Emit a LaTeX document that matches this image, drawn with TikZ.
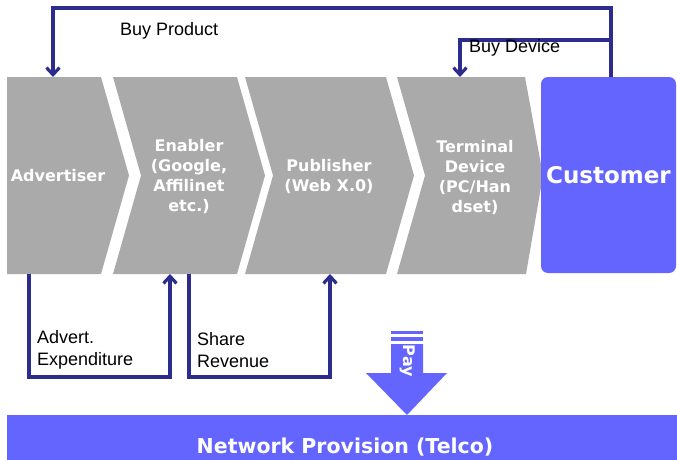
\documentclass[tikz,border=0pt]{standalone}
\usepackage{fontspec}
\setmainfont{Liberation Sans}
\newfontfamily\verdana{DejaVu Sans}
\usetikzlibrary{arrows.meta}
\definecolor{chevgray}{RGB}{170,170,170}
\definecolor{custblue}{RGB}{100,100,255}
\definecolor{flownavy}{RGB}{44,44,140}
\tikzset{
  chev/.style={fill=chevgray},
  stage/.style={text=white,inner sep=0pt,align=center,font=\verdana\bfseries\fontsize{16}{20}\selectfont},
  flow/.style={draw=flownavy,line width=3.2pt,line join=miter,-{Straight Barb[length=7pt,width=13pt]}},
  flowlabel/.style={inner sep=0pt,align=left,font=\fontsize{18}{22}\selectfont}
}

\begin{document}
\begin{tikzpicture}[x=1pt,y=-1pt]
  \useasboundingbox (0,0) rectangle (677,460);

  % value chain
  \fill[chev] (7,77) -- (101,77) -- (129,175.5) -- (101,274) -- (7,274) -- cycle;
  \fill[chev] (113,77) -- (237,77) -- (265,175.5) -- (237,274) -- (113,274) -- (141,175.5) -- cycle;
  \fill[chev] (245,77) -- (386,77) -- (414,175.5) -- (386,274) -- (245,274) -- (273,175.5) -- cycle;
  \fill[chev] (397,77) -- (525,77) -- (543,175.5) -- (526,274) -- (397,274) -- (425,175.5) -- cycle;

  \node[stage] (adv) at (58,176) {Advertiser};
  \node[stage] (enab) at (189,176) {Enabler\\(Google,\\Affilinet\\etc.)};
  \node[stage] (pub) at (329,176) {Publisher\\(Web X.0)};
  \node[stage] (term) at (475,177) {Terminal\\Device\\(PC/Han\\dset)};
  \node[fill=custblue,rounded corners=7pt,minimum width=135pt,minimum height=196pt,text=white,
        font=\verdana\bfseries\fontsize{23}{26}\selectfont] (cust) at (608.5,175) {Customer};

  % connectors
  \coordinate (custout) at (611,77);
  \coordinate (devsplit) at (611,40);
  \coordinate (advin) at (53,77);
  \coordinate (termin) at (460,77);
  \coordinate (advout) at (29,274);
  \coordinate (enabin) at (170,274);
  \coordinate (enabout) at (189,274);
  \coordinate (pubin) at (330,274);

  \draw[flow] (custout) -- ++(0,-69) -| (advin);
  \draw[flow] (devsplit) -| (termin);
  \draw[flow] (advout) -- ++(0,103) -| (enabin);
  \draw[flow] (enabout) -- ++(0,103) -| (pubin);

  \node[flowlabel,anchor=west] (buyprod) at (120,31) {Buy Product};
  \node[flowlabel,anchor=west] (buydev) at (469,48) {Buy Device};
  \node[flowlabel,anchor=west] (advexp) at (37,350) {Advert.\\Expenditure};
  \node[flowlabel,anchor=west] (sharerev) at (197,350) {Share\\Revenue};

  % pay
  \fill[custblue] (391,331) rectangle (423,334);
  \fill[custblue] (391,337) rectangle (423,341);
  \fill[custblue] (391,344) -- (423,344) -- (423,373) -- (447,373) -- (407,415) -- (366,373) -- (391,373) -- cycle;
  \node[stage,rotate=-90,font=\verdana\bfseries\fontsize{16}{18}\selectfont] (pay) at (408,361) {Pay};

  % network
  \node[fill=custblue,minimum width=670pt,minimum height=45pt,inner sep=0pt,anchor=north west] (telco) at (7,415) {};
  \node[stage,font=\verdana\bfseries\fontsize{20.5}{22}\selectfont] (telcotext) at (345,447) {Network Provision (Telco)};
\end{tikzpicture}
\end{document}
